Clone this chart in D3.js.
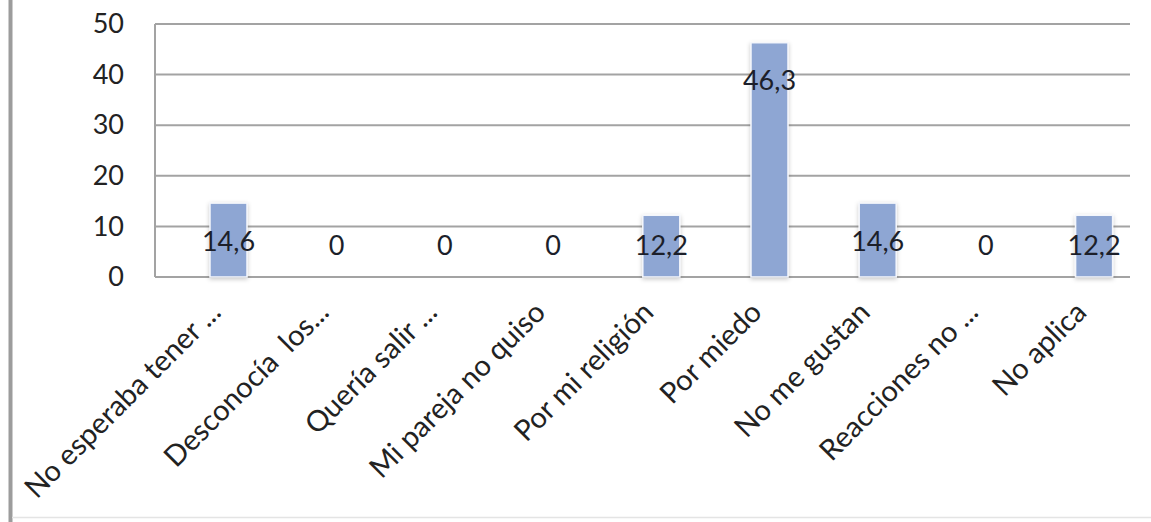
<!DOCTYPE html>
<html>
<head>
<meta charset="utf-8">
<script src="https://cdn.jsdelivr.net/npm/d3@7"></script>
<style>
  html, body { margin: 0; padding: 0; background: #fff; }
  svg { display: block; }
</style>
</head>
<body>
<svg id="chart" width="1151" height="522"></svg>
<script>
// Motivos (porcentaje de respuestas)
const categories = [
  "No esperaba tener ...",
  "Desconocía  los...",
  "Quería salir ...",
  "Mi pareja no quiso",
  "Por mi religión",
  "Por miedo",
  "No me gustan",
  "Reacciones no ...",
  "No aplica"
];
const values = [14.6, 0, 0, 0, 12.2, 46.3, 14.6, 0, 12.2];
const valueLabels = ["14,6", "0", "0", "0", "12,2", "46,3", "14,6", "0", "12,2"];
const yTicks = [0, 10, 20, 30, 40, 50];

const svg = d3.select("#chart");
const W = 1151, H = 522;

// Plot area
const plot = { left: 155, right: 1130, top: 24, bottom: 277 };

const y = d3.scaleLinear().domain([0, 50]).range([plot.bottom, plot.top]);
const x = d3.scaleBand().domain(categories).range([174.4, 1148.2]).paddingInner(0).paddingOuter(0);
const barW = 37;

const defs = svg.append("defs");
const shadow = defs.append("filter").attr("id", "barShadow")
  .attr("x", "-30%").attr("y", "-10%").attr("width", "160%").attr("height", "125%");
shadow.append("feDropShadow").attr("dx", 0).attr("dy", 1.5).attr("stdDeviation", 2)
  .attr("flood-color", "#000").attr("flood-opacity", 0.22);

// Outer frame pieces
svg.append("line").attr("x1", 10.5).attr("x2", 10.5).attr("y1", 0).attr("y2", H)
  .attr("stroke", "#9c9c9c").attr("stroke-width", 4);
svg.append("line").attr("x1", 12).attr("x2", W).attr("y1", 517.5).attr("y2", 517.5)
  .attr("stroke", "#e4e4e4").attr("stroke-width", 1.5);

// Horizontal gridlines
svg.append("g").selectAll("line").data(yTicks).join("line")
  .attr("x1", plot.left).attr("x2", plot.right)
  .attr("y1", d => y(d)).attr("y2", d => y(d))
  .attr("stroke", "#a3a3a3").attr("stroke-width", 2);

// Vertical axis line
svg.append("line").attr("x1", plot.left).attr("x2", plot.left)
  .attr("y1", plot.top).attr("y2", plot.bottom)
  .attr("stroke", "#a3a3a3").attr("stroke-width", 2);

// Y axis tick labels
const yAxis = d3.axisLeft(y).tickValues(yTicks).tickSize(0).tickPadding(31);
const gy = svg.append("g").attr("transform", `translate(${plot.left},0)`).call(yAxis);
gy.select(".domain").remove();
gy.selectAll("text")
  .attr("font-family", "Lato, 'Open Sans', sans-serif")
  .attr("font-size", 27).attr("fill", "#222");

// Bars
svg.append("g").selectAll("rect").data(values).join("rect")
  .attr("x", (d, i) => x(categories[i]) + x.bandwidth() / 2 - barW / 2)
  .attr("width", barW)
  .attr("y", d => y(d))
  .attr("height", d => y(0) - y(d))
  .attr("fill", "#8ea6d3")
  .attr("stroke", "#f4f6fb").attr("stroke-width", 1.5)
  .attr("filter", "url(#barShadow)")
  .style("display", d => d > 0 ? null : "none");

// Value labels
svg.append("g").selectAll("text").data(values).join("text")
  .attr("x", (d, i) => x(categories[i]) + x.bandwidth() / 2)
  .attr("y", d => Math.min(y(d) + 37, y(0) - 33))
  .attr("text-anchor", "middle")
  .attr("dominant-baseline", "central")
  .attr("font-family", "Lato, 'Open Sans', sans-serif")
  .attr("font-size", 27)
  .attr("fill", "#1c1f2a")
  .text((d, i) => valueLabels[i]);

// Category labels, rotated
const xAxis = d3.axisBottom(x).tickSize(0).tickPadding(0);
const gx = svg.append("g").attr("transform", `translate(0,${plot.bottom})`).call(xAxis);
gx.select(".domain").remove();
gx.selectAll(".tick text")
  .attr("font-family", "Lato, 'Open Sans', sans-serif")
  .attr("font-size", 29)
  .attr("fill", "#222")
  .attr("text-anchor", "end")
  .attr("dy", 0)
  .attr("y", 0)
  .style("white-space", "pre")
  .attr("transform", "translate(-6,37) rotate(-45)");
</script>
</body>
</html>
